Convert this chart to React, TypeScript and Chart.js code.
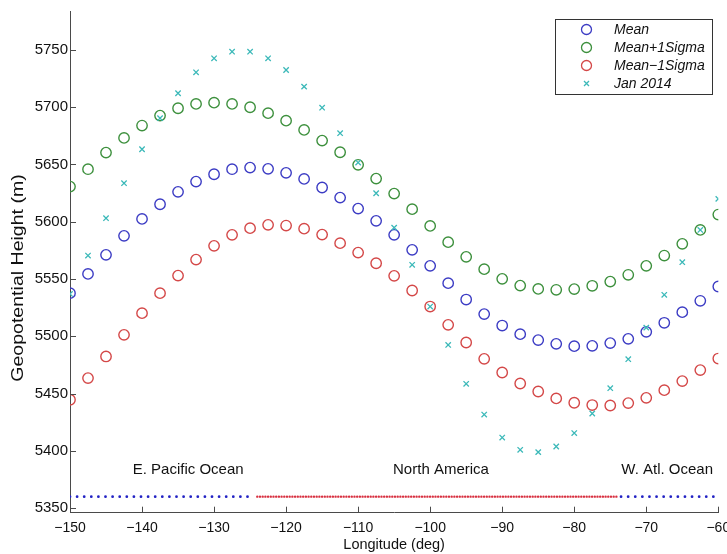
import React, { useEffect, useRef } from "react";
import { Chart, registerables } from "chart.js";

Chart.register(...registerables);

const FONT = "'Liberation Sans', Arial, Helvetica, sans-serif";

// Longitudes (deg)
const lon = [
  -150, -147.5, -145, -142.5, -140, -137.5, -135, -132.5, -130, -127.5,
  -125, -122.5, -120, -117.5, -115, -112.5, -110, -107.5, -105, -102.5,
  -100, -97.5, -95, -92.5, -90, -87.5, -85, -82.5, -80, -77.5,
  -75, -72.5, -70, -67.5, -65, -62.5, -60,
];

// Geopotential height (m)
const meanVals = [
  5537.7, 5554.5, 5571.1, 5587.7, 5602.5, 5615.3, 5626.1, 5635.1, 5641.5, 5645.9,
  5647.3, 5646.2, 5642.7, 5637.4, 5629.9, 5621.1, 5611.5, 5600.8, 5588.6, 5575.5,
  5561.5, 5546.4, 5532.1, 5519.4, 5509.4, 5501.9, 5496.7, 5493.4, 5491.4, 5491.7,
  5494.1, 5497.8, 5503.9, 5511.8, 5521.1, 5531.0, 5543.5,
];
const plusVals = [
  5630.7, 5645.9, 5660.4, 5673.2, 5684.0, 5692.7, 5699.1, 5702.9, 5704.0, 5702.9,
  5700.0, 5694.8, 5688.3, 5680.2, 5670.9, 5660.7, 5649.7, 5637.7, 5624.6, 5611.0,
  5596.4, 5582.2, 5569.4, 5558.6, 5550.2, 5544.3, 5541.4, 5540.6, 5541.2, 5544.1,
  5547.8, 5553.7, 5561.5, 5570.5, 5580.7, 5592.9, 5606.3,
];
const minusVals = [
  5444.6, 5463.5, 5482.4, 5501.3, 5520.2, 5537.7, 5553.0, 5567.0, 5579.0, 5588.6,
  5594.4, 5597.3, 5596.7, 5594.0, 5588.8, 5581.3, 5573.1, 5563.8, 5552.8, 5540.0,
  5526.0, 5510.0, 5494.6, 5480.3, 5468.4, 5458.8, 5451.8, 5445.8, 5442.0, 5440.0,
  5439.6, 5441.7, 5446.3, 5453.0, 5460.9, 5470.5, 5480.6,
];
const janVals = [
  5537.0, 5570.5, 5603.1, 5633.7, 5663.3, 5690.4, 5712.2, 5730.5, 5742.7, 5748.5,
  5748.5, 5742.7, 5732.5, 5718.0, 5699.6, 5677.3, 5651.7, 5624.9, 5594.9, 5562.4,
  5526.0, 5492.5, 5458.5, 5431.7, 5411.6, 5400.9, 5398.9, 5403.8, 5415.5, 5432.6,
  5454.7, 5480.0, 5507.6, 5536.2, 5564.7, 5592.9, 5620.0,
];

const seriesNames = ["Mean", "Mean+1Sigma", "Mean\u22121Sigma", "Jan 2014"];

// Region marker strip (lon ranges) at a fixed height
const stripHeight = 5360;
const oceanWest = [-150, -124.5];
const landRange = [-124, -74];
const oceanEast = [-73.5, -60];

const regionNames = ["E. Pacific Ocean", "North America", "W. Atl. Ocean"];
const regionLon = [-133.6, -98.5, -67.1];
const regionHeight = 5383;

const xTicks = [-150, -140, -130, -120, -110, -100, -90, -80, -70, -60];
const yTicks = [5350, 5400, 5450, 5500, 5550, 5600, 5650, 5700, 5750];

const C_BLUE = "#3c3cc4";
const C_GREEN = "#3d903d";
const C_RED = "#d44848";
const C_CYAN = "#3cb9b9";
const AXIS = "#4a4a4a";

const pts = (vals: number[]) => lon.map((x, i) => ({ x, y: vals[i] }));

const overlay = {
  id: "overlay",
  afterDatasetsDraw(chart: any) {
    const { ctx, scales } = chart;
    const xs = scales.x;
    const ys = scales.y;
    ctx.save();
    ctx.font = `15px ${FONT}`;
    ctx.fillStyle = "#111";
    ctx.textAlign = "center";
    ctx.textBaseline = "middle";
    regionNames.forEach((n, i) => {
      ctx.fillText(n, xs.getPixelForValue(regionLon[i]), ys.getPixelForValue(regionHeight));
    });
    ctx.restore();
  },
  afterDraw(chart: any) {
    const { ctx, chartArea, scales } = chart;
    const xs = scales.x;
    const ys = scales.y;
    ctx.save();
    // inward ticks
    ctx.strokeStyle = AXIS;
    ctx.lineWidth = 1;
    ctx.beginPath();
    xTicks.forEach((v) => {
      const px = Math.round(xs.getPixelForValue(v)) + 0.5;
      ctx.moveTo(px, chartArea.bottom);
      ctx.lineTo(px, chartArea.bottom - 6);
    });
    yTicks.forEach((v) => {
      const py = Math.round(ys.getPixelForValue(v)) + 0.5;
      ctx.moveTo(chartArea.left, py);
      ctx.lineTo(chartArea.left + 6, py);
    });
    ctx.stroke();

    // axis titles
    ctx.fillStyle = "#111";
    ctx.textAlign = "center";
    ctx.textBaseline = "middle";
    ctx.font = `14.5px ${FONT}`;
    ctx.fillText("Longitude (deg)", (chartArea.left + chartArea.right) / 2, 545);
    ctx.save();
    ctx.font = `17px ${FONT}`;
    ctx.translate(18, 278);
    ctx.rotate(-Math.PI / 2);
    ctx.scale(1.15, 1);
    ctx.fillText("Geopotential Height (m)", 0, 0);
    ctx.restore();

    // legend
    const bx = 555.5, by = 19.5, bw = 157, bh = 75;
    ctx.fillStyle = "#fff";
    ctx.fillRect(bx, by, bw, bh);
    ctx.strokeStyle = "#333";
    ctx.lineWidth = 1;
    ctx.strokeRect(bx, by, bw, bh);
    const colors = [C_BLUE, C_GREEN, C_RED, C_CYAN];
    ctx.font = `italic 14px ${FONT}`;
    ctx.textAlign = "left";
    ctx.textBaseline = "middle";
    seriesNames.forEach((n, i) => {
      const cy = 29.5 + i * 18;
      const cx = 586.5;
      ctx.strokeStyle = colors[i];
      ctx.lineWidth = 1.3;
      ctx.beginPath();
      if (i < 3) {
        ctx.arc(cx, cy, 5, 0, Math.PI * 2);
      } else {
        ctx.moveTo(cx - 2.5, cy - 2.5);
        ctx.lineTo(cx + 2.5, cy + 2.5);
        ctx.moveTo(cx + 2.5, cy - 2.5);
        ctx.lineTo(cx - 2.5, cy + 2.5);
      }
      ctx.stroke();
      ctx.fillStyle = "#111";
      ctx.fillText(n, 614, cy + 1);
    });
    ctx.restore();
  },
};

export default function App() {
  const ref = useRef<HTMLCanvasElement>(null);
  useEffect(() => {
    document.body.style.margin = "0";
    const canvas = ref.current!;
    const circle = (color: string) => ({
      pointStyle: "circle",
      pointRadius: 5.2,
      pointBorderWidth: 1.4,
      pointBorderColor: color,
      pointBackgroundColor: "rgba(0,0,0,0)",
      borderColor: color,
      backgroundColor: "rgba(0,0,0,0)",
      showLine: false,
    });
    const strip = (label: string, range: number[], color: string, width: number, gap: number) =>
      ({
        label,
        data: [
          { x: range[0], y: stripHeight },
          { x: range[1], y: stripHeight },
        ],
        showLine: true,
        borderColor: color,
        borderWidth: width,
        borderDash: [0, gap],
        borderCapStyle: "round",
        pointRadius: 0,
        order: 10,
      } as any);
    const chart = new Chart(canvas, {
      type: "scatter",
      data: {
        datasets: [
          strip("oceanWest", oceanWest, "#2222c4", 2.8, 7.1),
          strip("land", landRange, "#d83040", 2.4, 2.7),
          strip("oceanEast", oceanEast, "#2222c4", 2.8, 7.1),
          { label: seriesNames[0], data: pts(meanVals), ...circle(C_BLUE), order: 4 } as any,
          { label: seriesNames[1], data: pts(plusVals), ...circle(C_GREEN), order: 3 } as any,
          { label: seriesNames[2], data: pts(minusVals), ...circle(C_RED), order: 2 } as any,
          {
            label: seriesNames[3],
            data: pts(janVals),
            pointStyle: "crossRot",
            pointRadius: 3.8,
            pointBorderWidth: 1.3,
            pointBorderColor: C_CYAN,
            borderColor: C_CYAN,
            showLine: false,
            order: 1,
          } as any,
        ],
      },
      options: {
        animation: false,
        responsive: false,
        devicePixelRatio: 1,
        events: [],
        layout: { padding: { top: 11.7, right: 8.7, left: 0, bottom: 0 } },
        plugins: { legend: { display: false }, tooltip: { enabled: false } },
        scales: {
          x: {
            type: "linear",
            position: "bottom",
            min: -150,
            max: -60,
            grid: { display: false, drawTicks: false },
            border: { display: true, color: AXIS, width: 1 },
            ticks: {
              font: { size: 14, family: FONT },
              color: "#111",
              padding: 7,
              maxRotation: 0,
              callback: (v: any) => String(v).replace("-", "\u2212"),
            },
            afterBuildTicks: (s: any) => {
              s.ticks = xTicks.map((v) => ({ value: v }));
            },
            afterFit: (s: any) => {
              s.height = 41.3;
              s.paddingLeft = 0;
              s.paddingRight = 0;
            },
          },
          y: {
            type: "linear",
            min: 5346,
            max: 5783.4,
            grid: { display: false, drawTicks: false },
            border: { display: true, color: AXIS, width: 1 },
            ticks: {
              font: { size: 15, family: FONT },
              color: "#111",
              padding: 2,
              callback: (v: any) => String(v),
            },
            afterBuildTicks: (s: any) => {
              s.ticks = yTicks.map((v) => ({ value: v }));
            },
            afterFit: (s: any) => {
              s.width = 70;
              s.paddingTop = 0;
              s.paddingBottom = 0;
            },
          },
        },
      } as any,
      plugins: [overlay],
    });
    return () => chart.destroy();
  }, []);
  return (
    <div style={{ position: "absolute", left: 0, top: 0, width: 727, height: 554, background: "#fff" }}>
      <canvas ref={ref} width={727} height={554} style={{ width: 727, height: 554 }} />
    </div>
  );
}
